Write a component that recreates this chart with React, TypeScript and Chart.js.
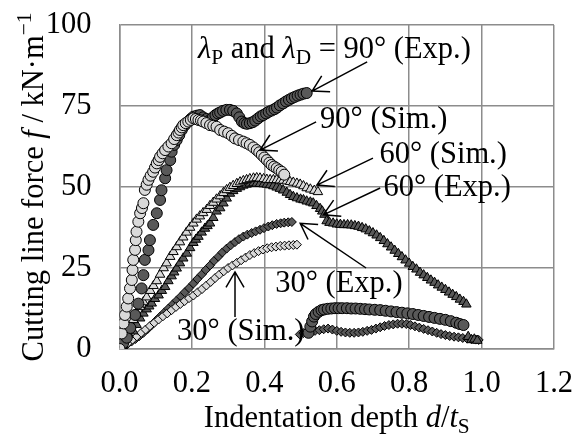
import React, { useEffect, useRef } from "react";
import { Chart, registerables } from "chart.js";

Chart.register(...registerables);

const FONT = '"Liberation Serif", "Times New Roman", serif';
const FONT_SIZE = 30.5;

// Axis ticks
const xTicks = [0, 0.2, 0.4, 0.6, 0.8, 1.0, 1.2];
const yTicks = [0, 25, 50, 75, 100];

// Cutting line force f [kN/m] against indentation depth d/tS, pairs of [d/tS, f]
const sim90: [number, number][] = [
  [0, 0], [0.006, 4.8], [0.011, 7.9], [0.015, 10.5], [0.02, 13.1], [0.024, 15.6], [0.029, 18.7],
  [0.034, 21.3], [0.036, 24.4], [0.038, 27.5], [0.043, 30.6], [0.045, 33.6], [0.047, 36.2],
  [0.052, 39.3], [0.057, 41.9], [0.062, 43.5], [0.066, 45], [0.07, 49.1], [0.075, 50.7],
  [0.08, 52.2], [0.086, 53.5], [0.093, 54.7], [0.098, 56], [0.103, 57.3], [0.108, 58.3],
  [0.112, 59.3], [0.119, 60.4], [0.126, 61.4], [0.135, 62.5], [0.144, 63.5], [0.151, 64.8],
  [0.158, 66], [0.163, 66.8], [0.167, 67.6], [0.172, 68.4], [0.176, 69.1], [0.183, 69.7],
  [0.19, 70.2], [0.197, 70.7], [0.204, 71.2], [0.211, 71], [0.218, 70.7], [0.225, 70.5],
  [0.231, 70.2], [0.24, 69.7], [0.25, 69.1], [0.259, 68.9], [0.268, 68.6], [0.278, 67.6],
  [0.289, 67.1], [0.3, 66.6], [0.31, 65.8], [0.319, 65], [0.33, 64.5], [0.342, 64],
  [0.351, 63.5], [0.36, 63], [0.37, 62.2], [0.379, 61.4], [0.386, 60.7], [0.393, 59.9],
  [0.4, 59.1], [0.407, 58.3], [0.414, 57.5], [0.42, 56.8], [0.427, 56.3], [0.434, 55.8],
  [0.441, 55.2], [0.448, 54.7], [0.455, 53.8],
];

const exp90: [number, number][] = [
  [0, 0], [0.01, 1.8], [0.02, 3.5], [0.03, 6.5], [0.043, 10.5], [0.052, 14], [0.061, 18.7],
  [0.066, 22.8], [0.07, 27.5], [0.08, 30.5], [0.084, 33.6], [0.093, 38.3], [0.103, 41.9],
  [0.112, 46], [0.116, 49], [0.126, 52.7], [0.13, 55.2], [0.14, 58.3], [0.144, 60.9],
  [0.151, 63], [0.158, 64.5], [0.165, 66], [0.172, 67.6], [0.18, 69], [0.19, 70.2],
  [0.197, 71], [0.204, 71.7], [0.213, 72], [0.222, 72.2],
  [0.231, 71.5], [0.24, 71], [0.25, 70.7], [0.258, 71.5], [0.265, 72.2], [0.272, 72.7],
  [0.278, 73], [0.286, 73.5], [0.295, 73.8], [0.305, 73.8], [0.314, 73.5], [0.324, 72.7],
  [0.331, 71.5], [0.338, 70.2], [0.345, 69.7], [0.352, 69.5], [0.36, 69.7], [0.368, 70],
  [0.375, 70.5], [0.383, 71.2], [0.39, 71.8], [0.397, 72.2], [0.405, 72.7], [0.412, 73.2],
  [0.42, 73.6], [0.428, 74], [0.435, 74.5], [0.443, 75.2], [0.452, 75.8], [0.46, 76.4],
  [0.468, 76.9], [0.476, 77.4], [0.484, 77.8], [0.492, 78.2], [0.5, 78.5], [0.508, 78.8],
  [0.517, 79],
  [0.522, 5], [0.527, 6.9], [0.532, 8.5], [0.537, 10], [0.542, 10.8], [0.55, 11.5],
  [0.558, 12], [0.565, 12.2], [0.575, 12.4], [0.585, 12.5], [0.595, 12.6], [0.605, 12.6],
  [0.615, 12.6], [0.628, 12.6], [0.64, 12.5], [0.652, 12.5], [0.665, 12.4], [0.678, 12.3],
  [0.69, 12.2], [0.705, 12.1], [0.72, 12], [0.735, 11.8], [0.75, 11.6], [0.765, 11.4],
  [0.78, 11.2], [0.795, 11], [0.81, 10.8], [0.825, 10.5], [0.84, 10.2], [0.855, 9.9],
  [0.87, 9.6], [0.885, 9.3], [0.9, 9], [0.915, 8.6], [0.93, 8.1], [0.94, 7.7], [0.95, 7.4],
];

const sim60: [number, number][] = [
  [0, 0], [0.008, 1.5], [0.015, 3], [0.022, 5], [0.03, 7], [0.038, 9], [0.047, 11],
  [0.057, 13], [0.066, 14.5], [0.075, 16], [0.085, 18], [0.094, 19.5], [0.103, 21],
  [0.112, 23], [0.122, 25], [0.13, 26.5], [0.14, 28.5], [0.149, 30], [0.158, 31.5],
  [0.167, 33], [0.176, 34.5], [0.185, 36], [0.195, 37.5], [0.204, 38.8], [0.213, 40],
  [0.222, 41], [0.231, 42], [0.241, 43], [0.25, 44.2], [0.259, 45.2], [0.268, 46.2],
  [0.278, 47.2], [0.287, 48.2], [0.296, 49.1], [0.305, 49.8], [0.314, 50.4], [0.324, 51],
  [0.333, 51.5], [0.342, 51.9], [0.351, 52.2], [0.36, 52.5], [0.37, 52.7], [0.379, 52.8],
  [0.388, 52.7], [0.398, 52.5], [0.407, 52.3], [0.416, 52.2], [0.425, 52.2], [0.434, 52.2],
  [0.443, 52.1], [0.452, 52], [0.462, 51.8], [0.471, 51.6], [0.48, 51.4], [0.49, 51.1],
  [0.499, 50.8], [0.508, 50.3], [0.517, 49.7], [0.527, 49.3], [0.538, 48.9], [0.548, 48.5],
];

const exp60: [number, number][] = [
  [0, 0], [0.008, 1], [0.015, 3], [0.025, 4.5], [0.038, 5.5], [0.047, 7.5], [0.057, 9.5],
  [0.066, 11], [0.075, 12.3], [0.082, 13.2], [0.089, 14.1], [0.098, 15.5], [0.108, 16.6],
  [0.117, 18], [0.126, 19.2], [0.135, 21], [0.144, 22.5], [0.151, 23.7], [0.158, 24.9],
  [0.167, 26.5], [0.176, 28], [0.186, 29.5], [0.195, 31.2], [0.204, 32.8], [0.211, 33.8],
  [0.218, 34.7], [0.227, 36], [0.236, 37.2], [0.243, 38], [0.25, 38.8], [0.259, 40.5],
  [0.268, 42.5], [0.278, 43.5], [0.287, 45], [0.296, 46.5], [0.305, 48], [0.314, 48.8],
  [0.324, 49.5], [0.333, 50], [0.342, 50.5], [0.351, 50.8], [0.36, 51.1], [0.37, 51.2],
  [0.379, 51.1], [0.388, 51], [0.398, 50.9], [0.407, 50.8], [0.416, 50.6], [0.425, 50.3],
  [0.434, 49.9], [0.443, 49.5], [0.452, 49], [0.462, 48.3], [0.471, 47.6], [0.48, 47],
  [0.49, 46.6], [0.5, 46.2], [0.508, 46], [0.517, 45.6], [0.527, 45.3], [0.535, 45],
  [0.544, 44.2], [0.554, 43.3], [0.56, 42.5], [0.566, 41.5], [0.572, 39.5], [0.58, 39],
  [0.59, 38.8], [0.6, 38.5], [0.61, 38.4], [0.62, 38.3], [0.63, 38.3], [0.64, 38.2],
  [0.65, 38], [0.66, 37.8], [0.67, 37.4], [0.68, 37], [0.69, 36.4], [0.7, 35.8], [0.71, 35.1],
  [0.72, 34.3], [0.73, 33.4], [0.74, 32.4], [0.75, 31.4], [0.76, 30.4], [0.77, 29.4],
  [0.78, 28.4], [0.79, 27.4], [0.8, 26.4], [0.81, 25.4], [0.82, 24.6], [0.83, 23.6],
  [0.84, 22.8], [0.85, 22], [0.86, 21.2], [0.87, 20.5], [0.88, 19.7], [0.89, 19], [0.9, 18.3],
  [0.91, 17.5], [0.92, 16.8], [0.93, 16.1], [0.94, 15.3], [0.95, 14.6], [0.958, 13.8],
  [0.963, 3.8], [0.972, 2.8], [0.98, 3], [0.988, 2.6],
];

const exp30: [number, number][] = [
  [0, 0], [0.011, 0.8], [0.022, 1.5], [0.033, 2.3], [0.044, 3.1], [0.055, 4], [0.066, 5],
  [0.078, 6.2], [0.09, 7.5], [0.101, 8.8], [0.112, 10], [0.124, 11.3], [0.135, 12.5],
  [0.147, 13.8], [0.158, 15], [0.169, 16.2], [0.18, 17.5], [0.192, 18.8], [0.204, 20.2],
  [0.215, 21.6], [0.227, 23], [0.238, 24.4], [0.25, 25.8], [0.261, 27.2], [0.273, 28.5],
  [0.284, 29.8], [0.296, 31], [0.307, 32], [0.319, 33], [0.33, 33.9], [0.342, 34.7],
  [0.353, 35.3], [0.365, 35.8], [0.376, 36.3], [0.388, 36.8], [0.399, 37.3], [0.411, 37.8],
  [0.422, 38.2], [0.434, 38.6], [0.445, 38.8], [0.455, 39], [0.466, 39.1], [0.476, 39.2],
  [0.498, 4.5], [0.508, 4.9], [0.518, 5.2], [0.528, 5.4], [0.54, 5.6], [0.552, 5.8],
  [0.564, 6.1], [0.576, 6.3], [0.588, 6], [0.6, 5.6], [0.612, 5.3], [0.624, 5.1], [0.636, 5],
  [0.648, 5], [0.66, 5.1], [0.672, 5.3], [0.684, 5.6], [0.696, 5.9], [0.708, 6.3], [0.72, 6.7],
  [0.732, 7.1], [0.744, 7.4], [0.756, 7.6], [0.768, 7.8], [0.78, 7.8], [0.792, 7.7],
  [0.804, 7.4], [0.816, 7], [0.828, 6.6], [0.84, 6.2], [0.852, 5.8], [0.864, 5.4], [0.876, 5],
  [0.888, 4.6], [0.9, 4.3], [0.912, 4], [0.924, 3.8], [0.936, 3.6], [0.948, 3.4], [0.96, 3.2],
  [0.972, 3], [0.984, 2.9], [0.992, 2.8],
];

const sim30: [number, number][] = [
  [0, 0], [0.012, 0.8], [0.024, 1.9], [0.036, 2.9], [0.048, 3.9], [0.06, 5], [0.072, 6],
  [0.084, 7.1], [0.096, 8.1], [0.108, 9.1], [0.12, 10.1], [0.132, 11], [0.144, 12],
  [0.156, 13], [0.168, 13.9], [0.18, 14.8], [0.192, 15.7], [0.204, 16.5], [0.216, 17.5],
  [0.228, 18.5], [0.24, 19.6], [0.252, 20.7], [0.264, 21.9], [0.276, 23], [0.288, 24],
  [0.3, 25], [0.312, 25.8], [0.324, 26.6], [0.336, 27.4], [0.348, 28.2], [0.36, 29],
  [0.372, 29.6], [0.384, 30.2], [0.396, 30.7], [0.408, 31.1], [0.42, 31.4], [0.432, 31.6],
  [0.444, 31.8], [0.456, 31.9], [0.468, 32], [0.48, 32.1], [0.49, 32.2],
];

type Seg = { t: string; it?: boolean; sub?: boolean; sup?: boolean };

// Callouts: text anchor (left baseline) and arrow tail/tip, all in data units
const NOTES: { segs: Seg[]; at: [number, number]; from: [number, number]; to: [number, number] }[] = [
  {
    segs: [
      { t: "λ", it: true }, { t: "P", sub: true }, { t: " and " },
      { t: "λ", it: true }, { t: "D", sub: true }, { t: " = 90° (Exp.)" },
    ],
    at: [0.217, 89.8], from: [0.684, 88.6], to: [0.532, 79.6],
  },
  { segs: [{ t: "90° (Sim.)" }], at: [0.554, 68.1], from: [0.543, 70.1], to: [0.388, 61.4] },
  { segs: [{ t: "60° (Sim.)" }], at: [0.718, 57.3], from: [0.7, 58.9], to: [0.545, 50.6] },
  { segs: [{ t: "60° (Exp.)" }], at: [0.729, 47.2], from: [0.72, 49.7], to: [0.563, 41.4] },
  { segs: [{ t: "30° (Exp.)" }], at: [0.43, 17.6], from: [0.681, 25], to: [0.499, 38.8] },
  { segs: [{ t: "30° (Sim.)" }], at: [0.159, 2.8], from: [0.319, 9.9], to: [0.319, 23.8] },
];

const X_TITLE: Seg[] = [
  { t: "Indentation depth " }, { t: "d", it: true }, { t: "/" }, { t: "t", it: true }, { t: "S", sub: true },
];
const Y_TITLE: Seg[] = [
  { t: "Cutting line force " }, { t: "f", it: true }, { t: " / kN·m" }, { t: "−1", sup: true },
];

function segFont(s: Seg, size: number) {
  const px = s.sub || s.sup ? size * 0.7 : size;
  return `${s.it ? "italic " : ""}${px}px ${FONT}`;
}

function drawRich(ctx: CanvasRenderingContext2D, segs: Seg[], x: number, y: number, size: number, align: "left" | "center") {
  let total = 0;
  for (const s of segs) {
    ctx.font = segFont(s, size);
    total += ctx.measureText(s.t).width;
  }
  let cx = align === "center" ? x - total / 2 : x;
  ctx.textAlign = "left";
  ctx.textBaseline = "alphabetic";
  for (const s of segs) {
    ctx.font = segFont(s, size);
    const dy = s.sub ? size * 0.2 : s.sup ? -size * 0.4 : 0;
    ctx.fillText(s.t, cx, y + dy);
    cx += ctx.measureText(s.t).width;
  }
}

function drawArrow(ctx: CanvasRenderingContext2D, x1: number, y1: number, x2: number, y2: number) {
  const ang = Math.atan2(y2 - y1, x2 - x1);
  const head = 18;
  ctx.beginPath();
  ctx.moveTo(x1, y1);
  ctx.lineTo(x2, y2);
  ctx.moveTo(x2 - head * Math.cos(ang - Math.PI / 6), y2 - head * Math.sin(ang - Math.PI / 6));
  ctx.lineTo(x2, y2);
  ctx.lineTo(x2 - head * Math.cos(ang + Math.PI / 6), y2 - head * Math.sin(ang + Math.PI / 6));
  ctx.stroke();
}

const notesPlugin = {
  id: "notes",
  afterDatasetsDraw(chart: any) {
    const { ctx, chartArea } = chart;
    const xs = chart.scales.x;
    const ys = chart.scales.y;
    ctx.save();
    ctx.fillStyle = "#000";
    ctx.strokeStyle = "#000";
    ctx.lineWidth = 1.5;
    for (const n of NOTES) {
      drawRich(ctx, n.segs, xs.getPixelForValue(n.at[0]), ys.getPixelForValue(n.at[1]), FONT_SIZE, "left");
      drawArrow(
        ctx,
        xs.getPixelForValue(n.from[0]), ys.getPixelForValue(n.from[1]),
        xs.getPixelForValue(n.to[0]), ys.getPixelForValue(n.to[1]),
      );
    }
    drawRich(ctx, X_TITLE, (chartArea.left + chartArea.right) / 2, chartArea.bottom + 78, FONT_SIZE, "center");
    ctx.translate(chartArea.left - 76.5, (chartArea.top + chartArea.bottom) / 2);
    ctx.rotate(-Math.PI / 2);
    drawRich(ctx, Y_TITLE, 0, 0, FONT_SIZE, "center");
    ctx.restore();
  },
};

const DARK = "#595959";
const LIGHT = "#d9d9d9";
const GRID = "#8c8c8c";

function series(pairs: [number, number][], style: string, fill: string, radius: number) {
  return {
    data: pairs.map(([x, y]) => ({ x, y })),
    showLine: false,
    pointStyle: style,
    pointRadius: radius,
    pointBackgroundColor: fill,
    pointBorderColor: "#000",
    pointBorderWidth: 1,
  };
}

export default function App() {
  const ref = useRef<HTMLCanvasElement>(null);

  useEffect(() => {
    if (!ref.current) return;
    const tickFont = { family: FONT, size: FONT_SIZE };
    const chart = new Chart(ref.current, {
      type: "scatter",
      data: {
        datasets: [
          series(sim90, "circle", LIGHT, 5.5),
          series(exp90, "circle", DARK, 5.5),
          series(sim60, "triangle", LIGHT, 5.5),
          series(exp60, "triangle", DARK, 5.5),
          series(sim30, "rectRot", LIGHT, 4.5),
          series(exp30, "rectRot", DARK, 4.5),
        ] as any,
      },
      options: {
        animation: false,
        responsive: false,
        devicePixelRatio: 1,
        layout: { padding: { left: 0, top: 25, right: 20, bottom: 0 } },
        plugins: { legend: { display: false }, tooltip: { enabled: false } },
        scales: {
          x: {
            type: "linear",
            min: xTicks[0],
            max: xTicks[xTicks.length - 1],
            afterBuildTicks: (s: any) => { s.ticks = xTicks.map((v) => ({ value: v })); },
            afterFit: (s: any) => {
              s.height = 87;
              s.paddingLeft = 0;
              s.paddingRight = 0;
            },
            ticks: {
              font: tickFont,
              color: "#000",
              padding: 17,
              maxRotation: 0,
              callback: (v: any) => Number(v).toFixed(1),
            },
            grid: { color: GRID, lineWidth: 1.5, drawTicks: false },
            border: { color: GRID, width: 1.5 },
          },
          y: {
            type: "linear",
            min: yTicks[0],
            max: yTicks[yTicks.length - 1],
            afterBuildTicks: (s: any) => { s.ticks = yTicks.map((v) => ({ value: v })); },
            afterFit: (s: any) => {
              s.width = 119.5;
              s.paddingTop = 0;
              s.paddingBottom = 0;
            },
            ticks: { font: tickFont, color: "#000", padding: 28 },
            grid: { color: GRID, lineWidth: 1.5, drawTicks: false },
            border: { color: GRID, width: 1.5 },
          },
        },
      } as any,
      plugins: [notesPlugin],
    });
    return () => chart.destroy();
  }, []);

  return (
    <div style={{ position: "fixed", left: 0, top: 0, width: 574, height: 436, background: "#fff" }}>
      <canvas ref={ref} width={574} height={436} />
    </div>
  );
}
